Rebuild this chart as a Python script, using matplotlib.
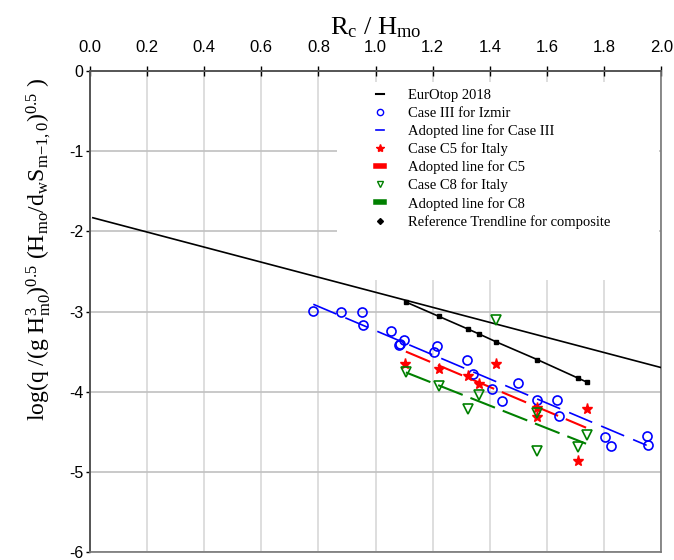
## Librerías
import numpy as np
import matplotlib.pyplot as plt
from matplotlib.lines import Line2D
from matplotlib.patches import Rectangle

plt.rcParams['mathtext.fontset'] = 'custom'
plt.rcParams['mathtext.rm'] = 'Liberation Serif'
plt.rcParams['mathtext.it'] = 'Liberation Serif:italic'
plt.rcParams['lines.scale_dashes'] = False
plt.rcParams['axes.unicode_minus'] = False

## Datos
# EurOtop 2018
euro_x = [0.01, 2.0]
euro_y = [-1.83, -3.70]

# Case III for Izmir
c3_x = [0.782, 0.878, 0.951, 0.957, 1.055, 1.099, 1.085, 1.083, 1.216, 1.203,
        1.319, 1.340, 1.409, 1.500, 1.441, 1.566, 1.634, 1.641, 1.802, 1.825,
        1.949, 1.953]
c3_y = [-2.99, -3.01, -3.00, -3.17, -3.24, -3.35, -3.41, -3.42, -3.43, -3.50,
        -3.61, -3.78, -3.97, -3.89, -4.12, -4.10, -4.10, -4.31, -4.57, -4.68,
        -4.56, -4.67]
c3_fit_x = [0.782, 1.949]
c3_fit_y = [-2.91, -4.67]

# Case C5 for Italy
c5_x = [1.104, 1.221, 1.324, 1.423, 1.362, 1.566, 1.566, 1.739, 1.709]
c5_y = [-3.66, -3.72, -3.81, -3.65, -3.91, -4.20, -4.32, -4.22, -4.87]
c5_fit_x = [1.106, 1.737]
c5_fit_y = [-3.50, -4.45]

# Case C8 for Italy
c8_x = [1.422, 1.105, 1.221, 1.324, 1.361, 1.566, 1.566, 1.739, 1.709]
c8_y = [-3.10, -3.75, -3.93, -4.22, -4.04, -4.27, -4.74, -4.54, -4.69]
c8_fit_x = [1.106, 1.737]
c8_fit_y = [-3.76, -4.65]

# Reference Trendline for composite
ref_x = [1.105, 1.221, 1.324, 1.362, 1.423, 1.566, 1.708, 1.739]
ref_y = [-2.88, -3.06, -3.22, -3.28, -3.38, -3.60, -3.83, -3.88]

## Figura
fig = plt.figure(figsize=(6.74, 5.6), dpi=100)
ax = fig.add_axes([0.1335, 0.0145, 0.8475, 0.8585])

ax.set_axisbelow(True)
ax.grid(True, axis='x', color='#d8d8d8', lw=1.2)
ax.grid(True, axis='y', color='#c0c0c0', lw=1.2)

# fondo blanco de la leyenda
ax.add_patch(Rectangle((0.433, 0.566), 0.564, 0.411, transform=ax.transAxes,
                       facecolor='white', edgecolor='none', zorder=1))

ax.plot(euro_x, euro_y, '-', color='black', lw=1.2, zorder=3)
ax.plot(c3_fit_x, c3_fit_y, color='blue', lw=1.2, dashes=(18, 7), zorder=3)
ax.plot(c5_fit_x, c5_fit_y, color='red', lw=1.5, dashes=(19, 6), zorder=3)
ax.plot(c8_fit_x, c8_fit_y, color='green', lw=1.5, dashes=(19, 6), zorder=3)
ax.plot(ref_x, ref_y, '-s', color='black', lw=1.2, ms=3.5, zorder=4)
ax.plot(c3_x, c3_y, 'o', mfc='none', mec='blue', mew=1.2, ms=6.5, zorder=5)
ax.plot(c5_x, c5_y, '*', color='red', ms=8, zorder=5)
ax.plot(c8_x, c8_y, 'v', mfc='none', mec='green', mew=1.2, ms=6.5, zorder=5)

ax.set_xlim(0, 2.0)
ax.set_ylim(-6, 0)
ax.set_xticks(np.arange(0, 2.01, 0.2))
ax.set_yticks(np.arange(-6, 0.1, 1))
ax.xaxis.tick_top()
ax.set_xticklabels(['%.1f' % v for v in np.arange(0, 2.01, 0.2)])
ax.set_yticklabels(['%d' % v for v in np.arange(-6, 0.1, 1)])
ax.tick_params(axis='x', direction='inout', length=7, width=1, pad=8,
               labelsize=12, colors='black')
ax.tick_params(axis='y', direction='out', length=3, width=1, pad=1.5,
               labelsize=11.5)
for lab in ax.get_xticklabels() + ax.get_yticklabels():
    lab.set_fontfamily('Liberation Sans')

for sp in ['top', 'left']:
    ax.spines[sp].set_color('#555555')
    ax.spines[sp].set_linewidth(1.4)
for sp in ['right', 'bottom']:
    ax.spines[sp].set_color('#777777')
    ax.spines[sp].set_linewidth(1.2)

ax.xaxis.set_label_position('top')
ax.set_xlabel(r'R$_{\mathrm{c}}$ / H$_{\mathrm{mo}}$', fontsize=19,
              family='Liberation Serif', labelpad=4)
ax.set_ylabel(r'log(q /(g H$_{\mathrm{m0}}^{\mathrm{3}}$)$^{\mathrm{0.5}}$'
              r' (H$_{\mathrm{mo}}$/d$_{\mathrm{w}}$S$_{\mathrm{m{-}1,0}}$)'
              r'$^{\mathrm{0.5}}$ )', fontsize=17, family='Liberation Serif')
ax.yaxis.set_label_coords(-0.065, 0.63)

## Leyenda
handles = [
    Line2D([], [], color='black', lw=1.5),
    Line2D([], [], ls='none', marker='o', mfc='none', mec='blue', ms=4.5, mew=1),
    Line2D([], [], color='blue', lw=1.2),
    Line2D([], [], ls='none', marker='*', color='red', ms=6),
    Line2D([], [], color='red', lw=4),
    Line2D([], [], ls='none', marker='v', mfc='none', mec='green', ms=4.5, mew=1),
    Line2D([], [], color='green', lw=4),
    Line2D([], [], ls='none', marker='D', color='black', ms=3),
]
labels = ['EurOtop 2018', 'Case III for Izmir', 'Adopted line for Case III',
          'Case C5 for Italy', 'Adopted line for C5', 'Case C8 for Italy',
          'Adopted line for C8', 'Reference Trendline for composite']
leg = ax.legend(handles, labels, loc='upper left', bbox_to_anchor=(0.49, 0.975),
                frameon=False, handlelength=0.6, handletextpad=1.6,
                labelspacing=0.3, borderaxespad=0,
                prop={'family': 'Liberation Serif', 'size': 10.5})
leg.set_zorder(6)

plt.savefig('out.png', dpi=100)
